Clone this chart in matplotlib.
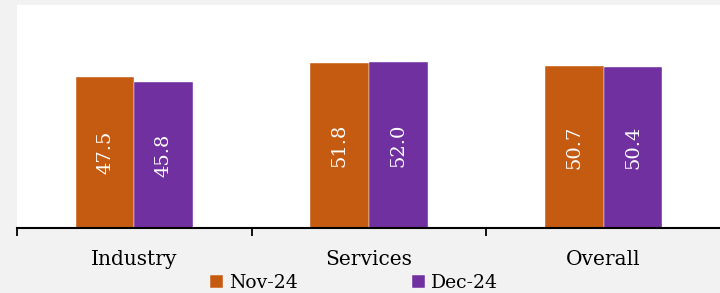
import matplotlib
matplotlib.use("Agg")
import matplotlib.pyplot as plt
import numpy as np

categories = ["Industry", "Services", "Overall"]
series_names = ["Nov-24", "Dec-24"]
nov = [47.5, 51.8, 50.7]
dec = [45.8, 52.0, 50.4]
colors = ["#C55A11", "#7030A0"]

plt.rcParams['font.family'] = ['DejaVu Serif']

fig = plt.figure(figsize=(7.2, 2.93), dpi=100, facecolor="#F2F2F2")
ax = fig.add_axes([17/720, 65/293, 704/720, 223/293])
ax.set_facecolor("white")

x = np.arange(len(categories))
w = 0.25
bars = []
for i, (vals, name, c) in enumerate(zip([nov, dec], series_names, colors)):
    b = ax.bar(x + (i - 0.5) * w, vals, width=w, color=c, label=name,
               edgecolor="white", linewidth=0.3)
    bars.append(b)
    for rect, v in zip(b, vals):
        ax.text(rect.get_x() + rect.get_width() / 2, v / 2, f"{v:.1f}",
                rotation=90, ha="center", va="center", color="white",
                fontsize=14)

ax.set_xlim(-0.5, 2.5)
ax.set_ylim(0, 70)
ax.set_yticks([])
for s in ["top", "right", "left"]:
    ax.spines[s].set_visible(False)
ax.spines["bottom"].set_linewidth(1.5)
ax.spines["bottom"].set_color("black")

ax.set_xticks(x)
ax.set_xticklabels(categories, fontsize=14.5)
ax.tick_params(axis="x", which="major", length=0, pad=16)
ax.set_xticks([-0.5, 0.5, 1.5, 2.5], minor=True)
ax.tick_params(axis="x", which="minor", length=6, width=1.3, color="black")

fig.legend(handles=bars, labels=series_names, loc="lower center",
           bbox_to_anchor=(0.4915, -0.055), ncol=2, frameon=False,
           fontsize=13.5, handlelength=0.7, handleheight=0.7,
           handletextpad=0.3, columnspacing=6.1)

fig.savefig("out.png", dpi=100, facecolor=fig.get_facecolor())
